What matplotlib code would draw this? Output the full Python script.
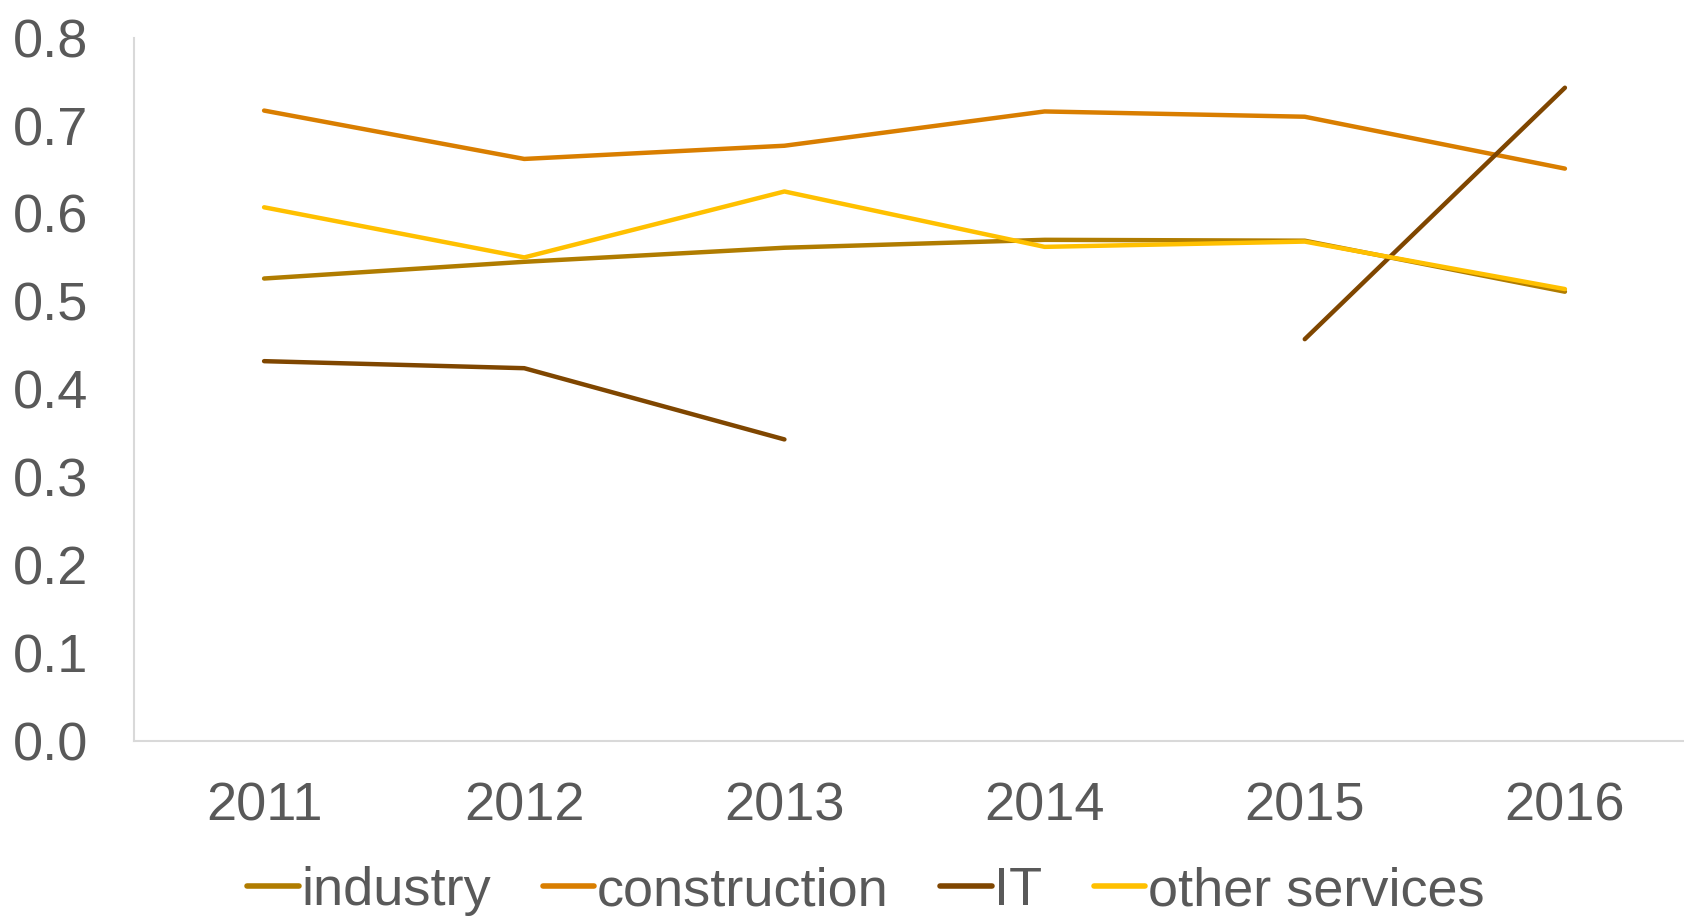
import numpy as np
import matplotlib
matplotlib.use("Agg")
import matplotlib.pyplot as plt

years = ["2011", "2012", "2013", "2014", "2015", "2016"]
industry = [0.526, 0.545, 0.561, 0.570, 0.569, 0.511]
construction = [0.717, 0.662, 0.677, 0.716, 0.710, 0.651]
it = [0.432, 0.424, 0.343, np.nan, 0.457, 0.743]
other_services = [0.607, 0.550, 0.625, 0.562, 0.568, 0.514]

series = [
    ("industry", industry, "#B07C00"),
    ("construction", construction, "#D97E00"),
    ("IT", it, "#7F4600"),
    ("other services", other_services, "#FFC000"),
]

plt.rcParams['font.family'] = ['Liberation Sans', 'DejaVu Sans']
text_color = "#595959"
fs = 39

fig = plt.figure(figsize=(16.84, 9.16), dpi=100)
ax = fig.add_axes([134/1684, 1 - 741/916, 1 - 134/1684, (741 - 37.6)/916])

x = np.arange(len(years))
for name, vals, col in series:
    ax.plot(x, vals, color=col, lw=3.2, label=name,
            solid_capstyle='round', solid_joinstyle='round')

ax.set_xlim(-0.5, 5.5 - 11/260)
ax.set_ylim(0, 0.8)
ax.set_yticks(np.arange(0, 0.81, 0.1))
ax.set_yticklabels([f"{v:.1f}" for v in np.arange(0, 0.81, 0.1)])
ax.set_xticks(x)
ax.set_xticklabels(years)

for s in ["top", "right"]:
    ax.spines[s].set_visible(False)
for s in ["left", "bottom"]:
    ax.spines[s].set_color("#D9D9D9")
    ax.spines[s].set_linewidth(1.5)

ax.tick_params(axis='y', length=0, pad=33, labelsize=fs, labelcolor=text_color)
ax.tick_params(axis='x', length=0, pad=29, labelsize=fs, labelcolor=text_color)

leg = fig.legend(loc='center', bbox_to_anchor=(866/1684, 1 - 891/916), ncol=4,
                 frameon=False, fontsize=fs, handlelength=0.95, handletextpad=0.05,
                 columnspacing=0.95, borderaxespad=0, borderpad=0)
for t in leg.get_texts():
    t.set_color(text_color)
for h in leg.get_lines():
    h.set_linewidth(4)
    h.set_solid_capstyle('round')

fig.savefig("out.png", dpi=100)
